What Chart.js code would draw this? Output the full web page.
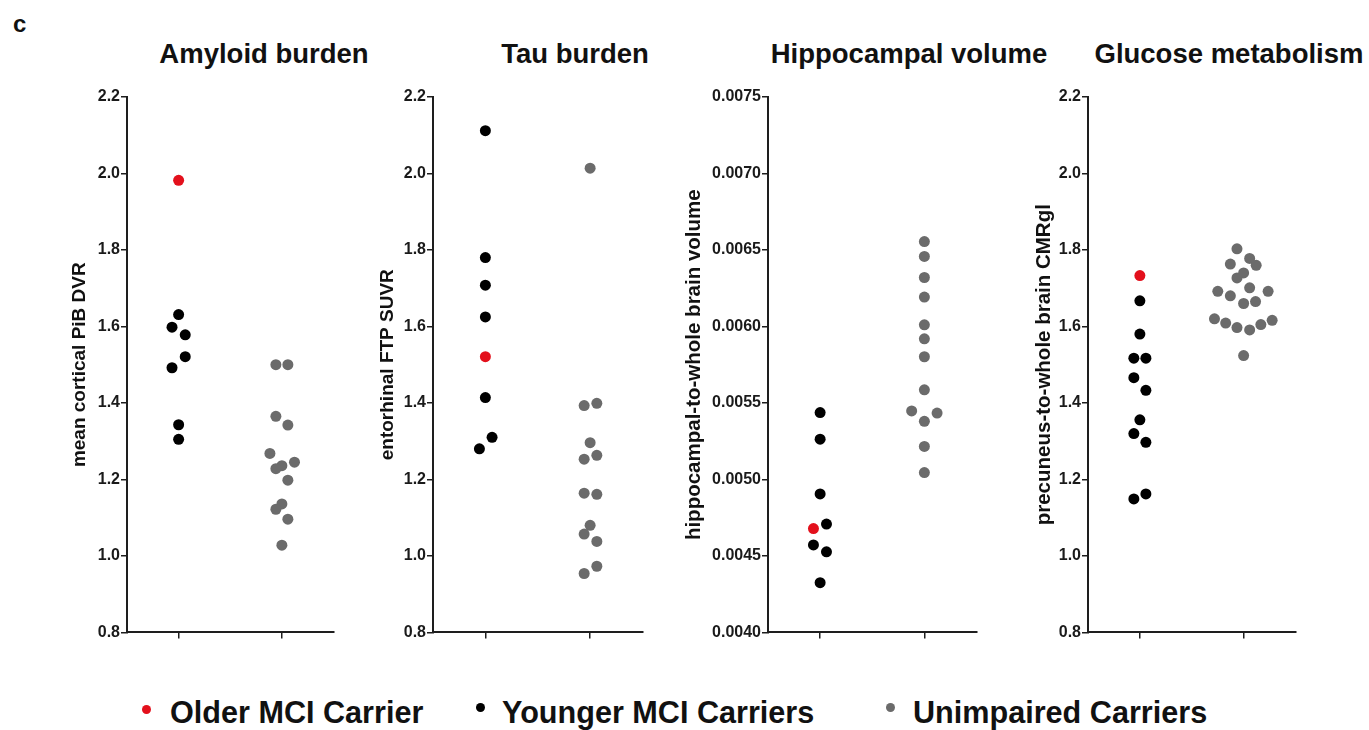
<!DOCTYPE html>
<html>
<head>
<meta charset="utf-8">
<script src="https://cdn.jsdelivr.net/npm/chart.js@4.4.1/dist/chart.umd.min.js"></script>
<style>
body { margin: 0; background: #fff; width: 1369px; height: 730px; position: relative; overflow: hidden;
       font-family: 'Liberation Sans', Arial, sans-serif; color: #111; }
canvas { position: absolute; }
.panel-letter { position: absolute; left: 13px; top: 12px; font-size: 24px; font-weight: bold; line-height: 1; }
.title { position: absolute; top: 40px; width: 400px; text-align: center; font-size: 27.5px; font-weight: bold; line-height: 1; }
.legend { position: absolute; top: 697px; font-size: 30.6px; font-weight: bold; line-height: 1; white-space: nowrap; }
.dot { position: absolute; width: 9px; height: 9px; border-radius: 50%; }
</style>
</head>
<body>
<div class="panel-letter">c</div>
<div class="title" style="left:64px">Amyloid burden</div>
<div class="title" style="left:375px">Tau burden</div>
<div class="title" style="left:709px">Hippocampal volume</div>
<div class="title" style="left:1029px">Glucose metabolism</div>

<canvas id="amyloid"></canvas>
<canvas id="tau"></canvas>
<canvas id="hippo"></canvas>
<canvas id="glucose"></canvas>

<span class="dot" style="left:142px;top:705px;background:#e3101c"></span>
<div class="legend" style="left:170px">Older MCI Carrier</div>
<span class="dot" style="left:476px;top:703px;background:#000"></span>
<div class="legend" style="left:502px">Younger MCI Carriers</div>
<span class="dot" style="left:886px;top:703px;background:#6b6b6b"></span>
<div class="legend" style="left:913px">Unimpaired Carriers</div>

<script>
// tick labels
var groupTicks = [0, 1];
var ratioTicks = ['0.8', '1.0', '1.2', '1.4', '1.6', '1.8', '2.0', '2.2'];
var volumeTicks = ['0.0040', '0.0045', '0.0050', '0.0055', '0.0060', '0.0065', '0.0070', '0.0075'];

// amyloid burden (PiB DVR)
var amyloidOlder = [1.982];
var amyloidOlderSpread = [0];
var amyloidYounger = [1.631, 1.598, 1.578, 1.521, 1.492, 1.343, 1.305];
var amyloidYoungerSpread = [0, -0.064, 0.064, 0.064, -0.064, 0, 0];
var amyloidUnimpaired = [1.500, 1.500, 1.365, 1.342, 1.268, 1.245, 1.236, 1.228, 1.198, 1.136, 1.122, 1.096, 1.028];
var amyloidUnimpairedSpread = [-0.058, 0.058, -0.058, 0.058, -0.116, 0.122, 0, -0.058, 0.058, 0, -0.058, 0.058, 0];

// tau burden (FTP SUVR)
var tauOlder = [1.521];
var tauOlderSpread = [0];
var tauYounger = [2.112, 1.780, 1.708, 1.625, 1.414, 1.310, 1.280];
var tauYoungerSpread = [0, 0, 0, 0, 0, 0.064, -0.057];
var tauUnimpaired = [2.014, 1.393, 1.399, 1.296, 1.253, 1.263, 1.164, 1.161, 1.080, 1.057, 1.038, 0.954, 0.973];
var tauUnimpairedSpread = [0, -0.057, 0.064, 0, -0.057, 0.064, -0.057, 0.064, 0, -0.057, 0.064, -0.057, 0.064];

// hippocampal volume
var hippoOlder = [0.004679];
var hippoOlderSpread = [-0.064];
var hippoYounger = [0.005437, 0.005263, 0.004905, 0.004708, 0.004572, 0.004527, 0.004325];
var hippoYoungerSpread = [0, 0, 0, 0.061, -0.064, 0.061, 0];
var hippoUnimpaired = [0.006555, 0.006458, 0.006320, 0.006192, 0.006011, 0.005919, 0.005802, 0.005586, 0.005448, 0.005434, 0.005380, 0.005216, 0.005045];
var hippoUnimpairedSpread = [0, 0, 0, 0, 0, 0, 0, 0, -0.122, 0.122, 0, 0, 0];

// glucose metabolism (CMRgl)
var glucoseOlder = [1.733];
var glucoseOlderSpread = [0];
var glucoseYounger = [1.667, 1.580, 1.517, 1.517, 1.466, 1.433, 1.356, 1.320, 1.297, 1.149, 1.162];
var glucoseYoungerSpread = [0, 0, -0.058, 0.058, -0.058, 0.058, 0, -0.058, 0.058, -0.058, 0.058];
var glucoseUnimpaired = [1.803, 1.763, 1.778, 1.760, 1.740, 1.727, 1.701, 1.692, 1.692, 1.680, 1.660, 1.665,
                         1.620, 1.616, 1.609, 1.597, 1.591, 1.605, 1.524];
var glucoseUnimpairedSpread = [-0.064, -0.128, 0.058, 0.121, 0, -0.064, 0.058, -0.249, 0.236, -0.128, 0, 0.115,
                               -0.281, 0.275, -0.173, -0.064, 0.058, 0.166, 0];

var RED = '#e3101c';
var BLACK = '#000000';
var GRAY = '#6b6b6b';
var AXIS = '#1e1e1e';
var FONT = "'Liberation Sans', Arial, sans-serif";

function points(group, values, spread) {
    return values.map(function (v, i) { return { x: group + spread[i], y: v }; });
}

function makePanel(id, layout, axisTitle, tickLabels, older, olderSpread, younger, youngerSpread, unimpaired, unimpairedSpread) {
    var canvas = document.getElementById(id);
    var plotTop = 97, plotHeight = 536, padTop = 12, xAxisHeight = 10, padRight = 4;
    canvas.width = layout.axisWidth + layout.plotWidth + padRight;
    canvas.height = padTop + plotHeight + xAxisHeight;
    canvas.style.left = (layout.axisLeft - layout.axisWidth) + 'px';
    canvas.style.top = (plotTop - padTop) + 'px';

    var tickValues = tickLabels.map(parseFloat);
    return new Chart(canvas.getContext('2d'), {
        type: 'scatter',
        data: {
            datasets: [
                { label: 'Older MCI Carrier', data: points(0, older, olderSpread), backgroundColor: RED },
                { label: 'Younger MCI Carriers', data: points(0, younger, youngerSpread), backgroundColor: BLACK },
                { label: 'Unimpaired Carriers', data: points(1, unimpaired, unimpairedSpread), backgroundColor: GRAY }
            ]
        },
        options: {
            responsive: false,
            animation: false,
            events: [],
            layout: { padding: { top: padTop, right: padRight, bottom: 0, left: 0 } },
            plugins: { legend: { display: false }, tooltip: { enabled: false } },
            elements: { point: { radius: 5.5, borderWidth: 0 } },
            scales: {
                x: {
                    type: 'linear',
                    min: -0.5,
                    max: 1.5,
                    afterBuildTicks: function (s) { s.ticks = groupTicks.map(function (v) { return { value: v }; }); },
                    afterFit: function (s) { s.height = xAxisHeight; },
                    ticks: { callback: function () { return ''; } },
                    grid: { drawOnChartArea: false, tickLength: 6, color: AXIS, lineWidth: 1.5 },
                    border: { color: AXIS, width: 2 }
                },
                y: {
                    min: tickValues[0],
                    max: tickValues[tickValues.length - 1],
                    afterBuildTicks: function (s) { s.ticks = tickValues.map(function (v) { return { value: v }; }); },
                    afterFit: function (s) { s.width = layout.axisWidth; },
                    ticks: {
                        autoSkip: false,
                        padding: 1,
                        color: '#1a1a1a',
                        font: { family: FONT, size: 16, weight: 'bold' },
                        callback: function (v, i) { return tickLabels[i]; }
                    },
                    grid: { drawOnChartArea: false, tickLength: 6, color: AXIS, lineWidth: 1.5 },
                    border: { color: AXIS, width: 2 },
                    title: {
                        display: true,
                        text: axisTitle,
                        color: '#111',
                        font: { family: FONT, size: layout.titleSize, weight: 'bold' },
                        padding: { top: layout.titleGap, bottom: 0 }
                    }
                }
            }
        }
    });
}

makePanel('amyloid', { axisLeft: 127, axisWidth: 60, plotWidth: 208, titleSize: 19, titleGap: 1.6 },
    'mean cortical PiB DVR', ratioTicks,
    amyloidOlder, amyloidOlderSpread, amyloidYounger, amyloidYoungerSpread, amyloidUnimpaired, amyloidUnimpairedSpread);
makePanel('tau', { axisLeft: 433, axisWidth: 60, plotWidth: 211, titleSize: 19, titleGap: 3.1 },
    'entorhinal FTP SUVR', ratioTicks,
    tauOlder, tauOlderSpread, tauYounger, tauYoungerSpread, tauUnimpaired, tauUnimpairedSpread);
makePanel('hippo', { axisLeft: 768, axisWidth: 88, plotWidth: 210, titleSize: 20.5, titleGap: 1.9 },
    'hippocampal-to-whole brain volume', volumeTicks,
    hippoOlder, hippoOlderSpread, hippoYounger, hippoYoungerSpread, hippoUnimpaired, hippoUnimpairedSpread);
makePanel('glucose', { axisLeft: 1088, axisWidth: 60, plotWidth: 209, titleSize: 20.5, titleGap: 4.2 },
    'precuneus-to-whole brain CMRgl', ratioTicks,
    glucoseOlder, glucoseOlderSpread, glucoseYounger, glucoseYoungerSpread, glucoseUnimpaired, glucoseUnimpairedSpread);
</script>
</body>
</html>
